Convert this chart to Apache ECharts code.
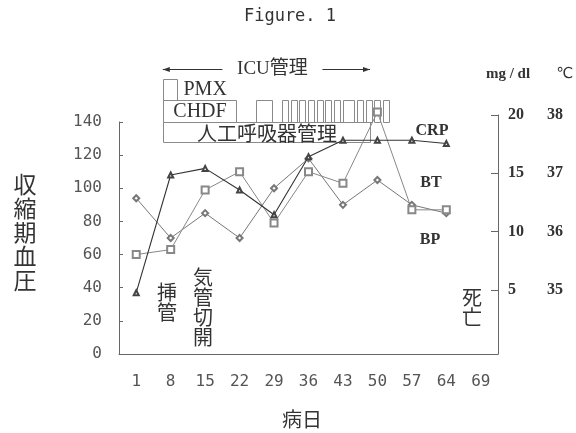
<!DOCTYPE html>
<html>
<head>
<meta charset="utf-8">
<script src="https://cdn.jsdelivr.net/npm/echarts@6/dist/echarts.min.js"></script>
<style>
    html, body { margin: 0; padding: 0; background: #fff; }
    #chart { width: 576px; height: 433px; }
</style>
</head>
<body>
<div id="chart"></div>
<script>
// 病日 (category labels)
const days = ['1', '8', '15', '22', '29', '36', '43', '50', '57', '64', '69'];
// values read against the left axis
const crp = [37, 108, 112, 99, 84, 119, 129, 129, 129, 127];
const bt = [60, 63, 99, 110, 79, 110, 103, 146, 87, 87];
const bp = [94, 70, 85, 70, 100, 118, 90, 105, 90, 85];

const leftTicks = [0, 20, 40, 60, 80, 100, 120, 140];
const mgTicks = [5, 10, 15, 20];
const tempTicks = [35, 36, 37, 38];

// treatment periods, in days [start, end]
const icuDays = [6.4, 48.5];
const ventDays = [[6.4, 48.5]];
const pmxDays = [[6.4, 9.2]];
const chdfDays = [
    [6.4, 21.3], [25.3, 28.6], [30.6, 31.8], [32.4, 33.6], [34.1, 35.3], [35.9, 37.1],
    [37.7, 38.9], [39.4, 40.6], [41.2, 42.4], [43.0, 45.3], [45.9, 47.1], [47.7, 48.9],
    [49.4, 50.6], [51.2, 52.4]
];

// row bands (left-axis units)
const rows = { vent: [128, 140], chdf: [140, 153.3], pmx: [153.3, 166] };
const dayIdx = d => (d - 1) / 7;

const boxes = [];
ventDays.forEach(d => boxes.push({ s: d[0], e: d[1], row: 'vent', label: '人工呼吸器管理', pos: 'in' }));
chdfDays.forEach((d, i) => boxes.push({ s: d[0], e: d[1], row: 'chdf', label: i === 0 ? 'CHDF' : '', pos: 'in' }));
pmxDays.forEach(d => boxes.push({ s: d[0], e: d[1], row: 'pmx', label: 'PMX', pos: 'right' }));

const serifJP = '"Liberation Serif", "Noto Sans CJK JP"';
const gothic = '"Noto Sans CJK JP"';

// category axis snaps to whole indexes, so interpolate between two of them
function dayToX(api, d) {
    const a = api.coord([0, 0])[0];
    const b = api.coord([1, 0])[0];
    return a + dayIdx(d) * (b - a);
}
const valToY = (api, v) => api.coord([0, v])[1];

function renderBox(params, api) {
    const b = boxes[params.dataIndex];
    const r = rows[b.row];
    const x0 = Math.round(dayToX(api, b.s)) + 0.5, y0 = Math.round(valToY(api, r[1])) + 0.5;
    const x1 = Math.round(dayToX(api, b.e)) + 0.5, y1 = Math.round(valToY(api, r[0])) + 0.5;
    const children = [{
        type: 'rect',
        shape: { x: x0, y: y0, width: x1 - x0, height: y1 - y0 },
        style: { fill: 'none', stroke: '#8a8a8a', lineWidth: 1 }
    }];
    if (b.label) {
        const inside = b.pos === 'in';
        const isJP = b.row === 'vent';
        children.push({
            type: 'text',
            style: {
                text: b.label,
                x: inside ? (x0 + x1) / 2 : x1 + 6,
                y: (y0 + y1) / 2 + (isJP ? 1 : 0),
                textAlign: inside ? 'center' : 'left',
                align: inside ? 'center' : 'left',
                textVerticalAlign: 'middle',
                verticalAlign: 'middle',
                font: (isJP ? '20px ' + gothic : '20px "Liberation Serif"'),
                fill: '#333'
            }
        });
    }
    return { type: 'group', children: children };
}

function renderIcu(params, api) {
    const xa = dayToX(api, icuDays[0]);
    const xb = dayToX(api, icuDays[1]);
    const yy = Math.round(valToY(api, 172)) + 0.5;
    const mid = (xa + xb) / 2 + 6;
    const half = 50;
    const st = { stroke: '#333', lineWidth: 1 };
    return {
        type: 'group',
        children: [
            { type: 'line', shape: { x1: xa, y1: yy, x2: mid - half, y2: yy }, style: st },
            { type: 'polygon', shape: { points: [[xa, yy], [xa + 7, yy - 2.5], [xa + 7, yy + 2.5]] }, style: { fill: '#333' } },
            { type: 'line', shape: { x1: mid + half, y1: yy, x2: xb, y2: yy }, style: st },
            { type: 'polygon', shape: { points: [[xb, yy], [xb - 7, yy - 2.5], [xb - 7, yy + 2.5]] }, style: { fill: '#333' } },
            {
                type: 'text',
                style: {
                    text: 'ICU管理', x: mid, y: yy,
                    textAlign: 'center', align: 'center',
                    textVerticalAlign: 'middle', verticalAlign: 'middle',
                    font: '19px ' + serifJP, fill: '#333'
                }
            }
        ]
    };
}

function txt(text, x, y, font, lineHeight) {
    return {
        type: 'text',
        style: {
            text: text, x: x, y: y, font: font,
            textAlign: 'center', align: 'center',
            textVerticalAlign: 'middle', verticalAlign: 'middle',
            lineHeight: lineHeight || undefined,
            fill: '#333'
        }
    };
}

const axisGray = '#666';
const monoLabel = { fontFamily: 'DejaVu Sans Mono', fontSize: 16, color: '#555' };
const serifBold = { fontFamily: 'Liberation Serif', fontSize: 16, fontWeight: 'bold', color: '#333' };

const option = {
    backgroundColor: '#fff',
    animation: false,
    grid: [
        { left: 119, right: 78, top: 122, bottom: 79 },
        { left: 119, right: 78, top: 115, bottom: 79 }
    ],
    xAxis: [
        {
            type: 'category',
            gridIndex: 0,
            data: days,
            boundaryGap: true,
            axisLine: { lineStyle: { color: axisGray } },
            axisTick: { inside: true, length: 5, lineStyle: { color: axisGray } },
            axisLabel: Object.assign({ margin: 20 }, monoLabel),
            splitLine: { show: false }
        },
        { type: 'value', gridIndex: 1, show: false, min: 0, max: 1 }
    ],
    yAxis: [
        {
            type: 'value',
            gridIndex: 0,
            min: 0,
            max: 140,
            interval: 20,
            axisLine: { show: true, lineStyle: { color: axisGray } },
            axisTick: { show: true, inside: true, length: 4, lineStyle: { color: axisGray } },
            axisLabel: Object.assign({ margin: 17, formatter: v => leftTicks.includes(v) ? String(v) : '' }, monoLabel),
            splitLine: { show: false }
        },
        {
            type: 'value',
            gridIndex: 1,
            position: 'right',
            min: -0.5,
            max: 20,
            axisLine: { show: true, onZero: false, lineStyle: { color: axisGray } },
            axisTick: { show: true, inside: true, length: 7, customValues: mgTicks, lineStyle: { color: axisGray } },
            axisLabel: Object.assign({ margin: 10, customValues: mgTicks }, serifBold),
            splitLine: { show: false }
        },
        {
            type: 'value',
            gridIndex: 1,
            position: 'right',
            offset: 40,
            min: 33.9,
            max: 38,
            axisLine: { show: false, onZero: false },
            axisTick: { show: false },
            axisLabel: Object.assign({ margin: 9, customValues: tempTicks }, serifBold),
            splitLine: { show: false }
        }
    ],
    graphic: [
        txt('Figure. 1', 290, 17, '17px "DejaVu Sans Mono"'),
        txt('収\n縮\n期\n血\n圧', 25, 232, '23px ' + gothic, 24),
        txt('病日', 302, 419, '20px ' + gothic),
        txt('mg / dl', 508, 74, 'bold 15px "Liberation Serif"'),
        txt('℃', 565, 74, '15px "DejaVu Sans"'),
        txt('CRP', 432, 131, 'bold 16px "Liberation Serif"'),
        txt('BT', 431, 183, 'bold 16px "Liberation Serif"'),
        txt('BP', 430, 240, 'bold 16px "Liberation Serif"'),
        txt('挿\n管', 167, 302, '20px ' + gothic, 20),
        txt('気\n管\n切\n開', 203, 307, '20px ' + gothic, 20),
        txt('死\n亡', 472, 307, '20px ' + gothic, 20)
    ],
    series: [
        {
            type: 'custom',
            name: 'treatments',
            xAxisIndex: 0,
            yAxisIndex: 0,
            clip: false,
            silent: true,
            z: 1,
            renderItem: renderBox,
            data: boxes.map(() => [0, 0])
        },
        {
            type: 'custom',
            name: 'ICU',
            xAxisIndex: 0,
            yAxisIndex: 0,
            clip: false,
            silent: true,
            z: 1,
            renderItem: renderIcu,
            data: [[0, 0]]
        },
        {
            type: 'line',
            name: 'BP',
            data: bp,
            clip: false,
            z: 3,
            symbol: 'emptyDiamond',
            symbolSize: 6,
            itemStyle: { color: '#777' },
            lineStyle: { color: '#777', width: 1 }
        },
        {
            type: 'line',
            name: 'BT',
            data: bt,
            clip: false,
            z: 3,
            symbol: 'emptyRect',
            symbolSize: 7,
            itemStyle: { color: '#888' },
            lineStyle: { color: '#888', width: 1 }
        },
        {
            type: 'line',
            name: 'CRP',
            data: crp,
            clip: false,
            z: 4,
            symbol: 'emptyTriangle',
            symbolSize: 5,
            itemStyle: { color: '#444' },
            lineStyle: { color: '#333', width: 1.1 }
        }
    ]
};

const myChart = echarts.init(document.getElementById('chart'));
option && myChart.setOption(option);
</script>
</body>
</html>
